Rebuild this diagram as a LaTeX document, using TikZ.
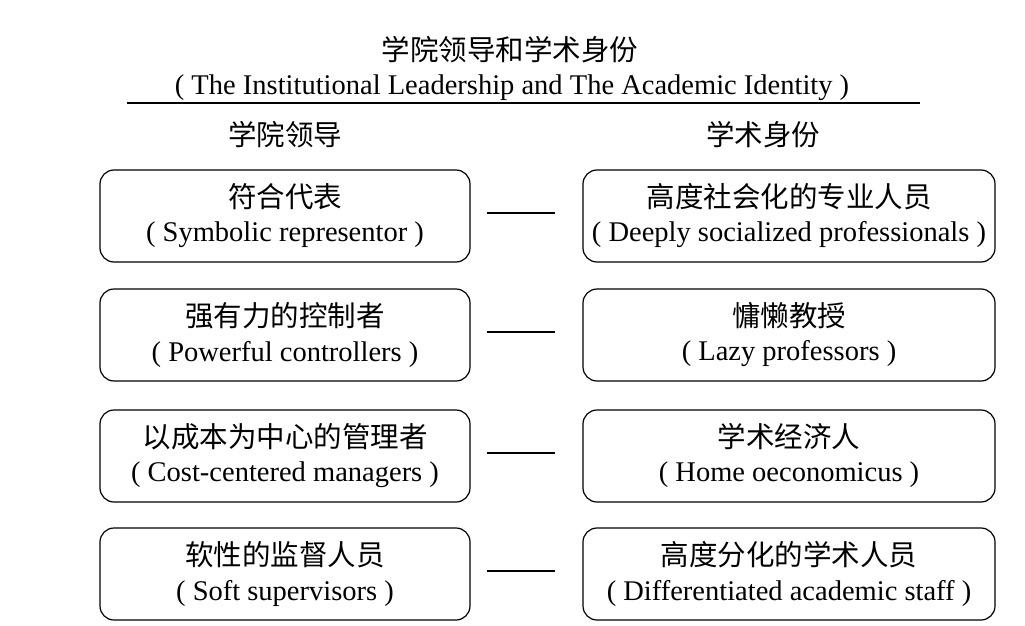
\documentclass[tikz,border=0pt]{standalone}
\usepackage{fontspec}
\setmainfont{Liberation Serif}
\newfontfamily\cjk{Noto Sans CJK SC}
\newcommand{\zh}[1]{{\cjk\fontsize{28.5}{32}\selectfont #1}}
\newcommand{\en}[1]{{\fontsize{28.5}{32}\selectfont( #1 )}}
\newcommand{\mkcard}[5]{%
  \node[#3] (#1) at #2 {};
  \node[txt] (#1zh) at ([yshift=19pt]#1.center) {\zh{#4}};
  \node[txt] (#1en) at ([yshift=-19pt]#1.center) {\en{#5}};}
\begin{document}
\begin{tikzpicture}[x=1pt,y=-1pt,
  card/.style={draw, line width=1.2pt, rounded corners=14pt, minimum height=92pt, inner sep=0pt},
  leftcard/.style={card, minimum width=370pt},
  rightcard/.style={card, minimum width=412pt},
  link/.style={line width=1.2pt},
  txt/.style={inner sep=0pt}]
\useasboundingbox (0,0) rectangle (1025,626);
\node[txt] (t1) at (510,50) {\zh{学院领导和学术身份}};
\node[txt] (t2) at (512,88) {\en{The Institutional Leadership and The Academic Identity}};
\coordinate (ra) at (127,103);
\coordinate (rb) at (920,103);
\draw[line width=1.2pt] (ra) -- (rb);
\node[txt] (hl) at (285,135) {\zh{学院领导}};
\node[txt] (hr) at (763,135) {\zh{学术身份}};

\mkcard{l1}{(285,216)}{leftcard}{符合代表}{Symbolic representor}
\mkcard{l2}{(285,335)}{leftcard}{强有力的控制者}{Powerful controllers}
\mkcard{l3}{(285,456)}{leftcard}{以成本为中心的管理者}{Cost-centered managers}
\mkcard{l4}{(285,574)}{leftcard}{软性的监督人员}{Soft supervisors}

\mkcard{r1}{(789,216)}{rightcard}{高度社会化的专业人员}{Deeply socialized professionals}
\mkcard{r2}{(789,335)}{rightcard}{慵懒教授}{Lazy professors}
\mkcard{r3}{(789,456)}{rightcard}{学术经济人}{Home oeconomicus}
\mkcard{r4}{(789,574)}{rightcard}{高度分化的学术人员}{Differentiated academic staff}

\foreach \i in {1,2,3,4}{
  \draw[link] ([xshift=16pt,yshift=3pt]l\i.east) -- ([xshift=-27pt,yshift=3pt]r\i.west);
}
\end{tikzpicture}
\end{document}
